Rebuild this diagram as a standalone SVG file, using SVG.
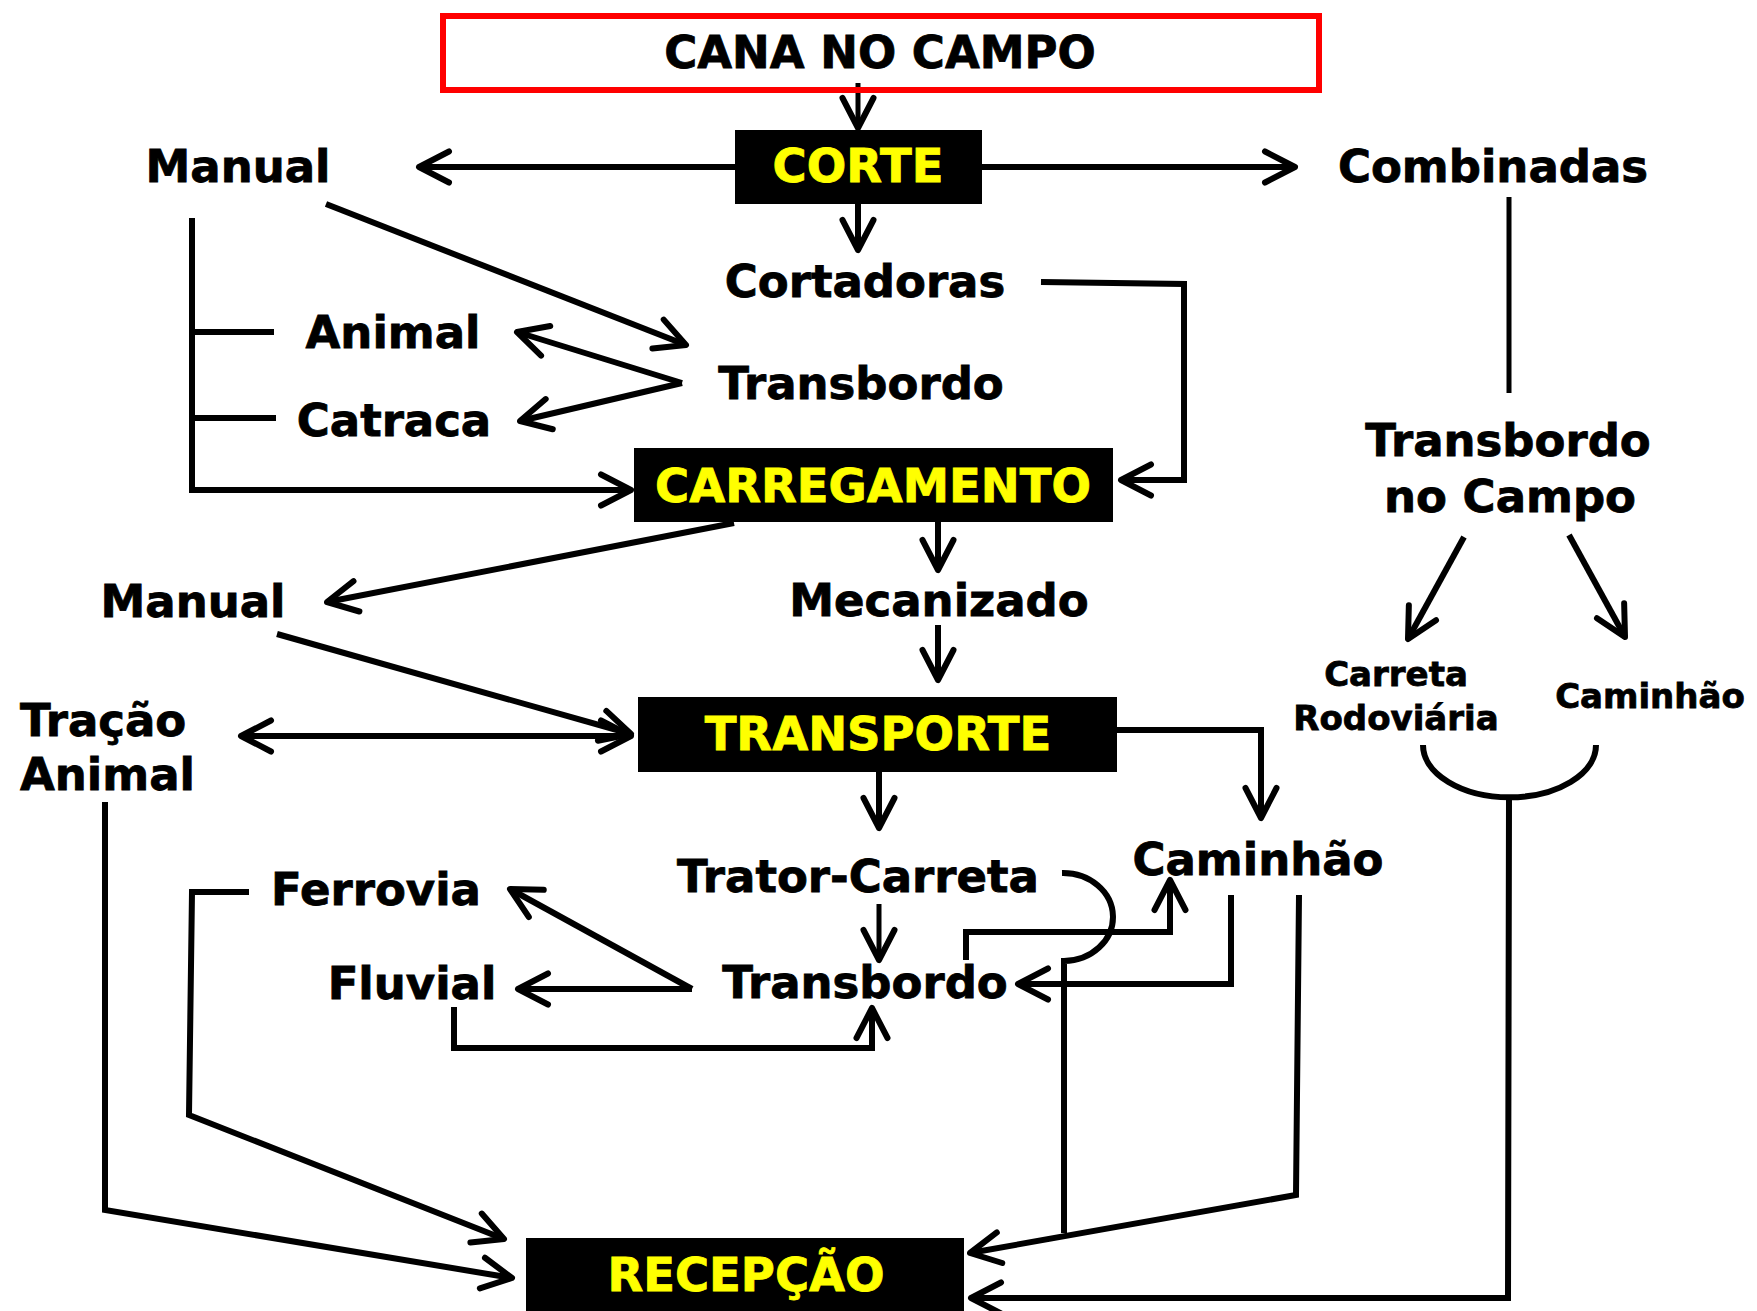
<svg xmlns="http://www.w3.org/2000/svg" width="1757" height="1311" viewBox="0 0 1757 1311">
<style>
text{font-family:"DejaVu Sans",Verdana,sans-serif;font-weight:bold;text-anchor:middle;fill:#000;stroke:#000;stroke-width:0.8}
.lbl{font-size:45px}
.sm{font-size:34px}
.bx rect{fill:#000}
.bx text{fill:#ffff00;stroke:#ffff00;font-size:46.5px}
.c{fill:none;stroke:#000;stroke-width:6;stroke-linejoin:miter}
.t{fill:none;stroke:#000;stroke-width:5}
.a{marker-end:url(#ah)}
</style>
<defs>
<marker id="ah" markerUnits="userSpaceOnUse" viewBox="-40 -25 50 50" markerWidth="50" markerHeight="50" refX="0" refY="0" orient="auto-start-reverse" overflow="visible">
<path d="M-30,-15.5 L0,0 L-30,15.5" fill="none" stroke="#000" stroke-width="6" stroke-linejoin="round" stroke-linecap="round"/>
</marker>
</defs>
<rect width="1757" height="1311" fill="#fff"/>

<g id="connectors">
<path class="t a" d="M858,83 L858,128"/>
<path class="c a" d="M735,167 L419,167"/>
<path class="c a" d="M982,167 L1295,167"/>
<path class="c a" d="M858,204 L858,250"/>
<path class="t" d="M1509,197 L1509,393"/>
<path class="c a" d="M1041,282 L1184,284 L1184,480 L1121,480"/>
<path class="c a" d="M326,204 L686,345"/>
<path class="c a" d="M682,383 L517,332"/>
<path class="c a" d="M682,383 L520,421"/>
<path class="c a" d="M192,218 L192,490 L631,490"/>
<path class="c" d="M192,332 L274,332 M192,418 L276,418"/>
<path class="c a" d="M734,523 L327,602"/>
<path class="c a" d="M938,522 L938,570"/>
<path class="c a" d="M938,625 L938,680"/>
<path class="c a" d="M277,634 L631,734"/>
<path class="c a" d="M241,736 L631,736" marker-start="url(#ah)"/>
<path class="c a" d="M1117,730 L1261,730 L1261,818"/>
<path class="c a" d="M879,772 L879,828"/>
<path class="t a" d="M879,904 L879,960"/>
<path class="c a" d="M692,989 L510,889"/>
<path class="c a" d="M692,989 L518,989"/>
<path class="c a" d="M454,1007 L454,1048 L872,1048 L872,1008"/>
<path class="c a" d="M966,960 L966,932 L1170,932 L1170,880"/>
<path class="c a" d="M1231,895 L1231,984 L1018,984"/>
<path class="c" d="M1062,873 A50,44 0 0 1 1064,961 L1064,1233"/>
<path class="c a" d="M1299,895 L1296,1195 L970,1253"/>
<path class="c" d="M1423,745 A86,52 0 0 0 1596,745"/>
<path class="c a" d="M1509,797 L1508,1298 L971,1298"/>
<path class="c a" d="M1464,537 L1408,639"/>
<path class="c a" d="M1569,535 L1625,637"/>
<path class="c a" d="M105,802 L105,1210 L512,1278"/>
<path class="c a" d="M249,892 L192,892 L189,1115 L504,1239"/>
</g>

<g id="cana"><rect x="443" y="16" width="876" height="74" fill="none" stroke="#ff0000" stroke-width="6"/><text class="lbl" x="880" y="68">CANA NO CAMPO</text></g>
<g id="corte" class="bx"><rect x="735" y="130" width="247" height="74"/><text x="858" y="182">CORTE</text></g>
<g id="manual1"><text class="lbl" x="238" y="182">Manual</text></g>
<g id="combinadas"><text class="lbl" x="1493" y="182">Combinadas</text></g>
<g id="cortadoras"><text class="lbl" x="865" y="297">Cortadoras</text></g>
<g id="animal"><text class="lbl" x="393" y="348">Animal</text></g>
<g id="transbordo1"><text class="lbl" x="861" y="399">Transbordo</text></g>
<g id="catraca"><text class="lbl" x="394" y="436">Catraca</text></g>
<g id="carregamento" class="bx"><rect x="634" y="448" width="479" height="74"/><text x="873" y="502">CARREGAMENTO</text></g>
<g id="transbordoCampo"><text class="lbl" x="1508" y="456">Transbordo</text><text class="lbl" x="1510" y="512">no Campo</text></g>
<g id="manual2"><text class="lbl" x="193" y="617">Manual</text></g>
<g id="mecanizado"><text class="lbl" x="939" y="616">Mecanizado</text></g>
<g id="transporte" class="bx"><rect x="638" y="697" width="479" height="75"/><text x="878" y="750">TRANSPORTE</text></g>
<g id="tracao"><text class="lbl" x="20" y="736" style="text-anchor:start">Tração</text><text class="lbl" x="20" y="790" style="text-anchor:start">Animal</text></g>
<g id="carreta"><text class="sm" x="1396" y="686">Carreta</text><text class="sm" x="1396" y="730">Rodoviária</text></g>
<g id="caminhao2"><text class="sm" x="1650" y="708">Caminhão</text></g>
<g id="trator"><text class="lbl" x="858" y="892">Trator-Carreta</text></g>
<g id="caminhao1"><text class="lbl" x="1258" y="875">Caminhão</text></g>
<g id="transbordo2"><text class="lbl" x="865" y="998">Transbordo</text></g>
<g id="ferrovia"><text class="lbl" x="376" y="905">Ferrovia</text></g>
<g id="fluvial"><text class="lbl" x="412" y="999">Fluvial</text></g>
<g id="recepcao" class="bx"><rect x="526" y="1238" width="438" height="80"/><text x="746" y="1291">RECEPÇÃO</text></g>
</svg>
